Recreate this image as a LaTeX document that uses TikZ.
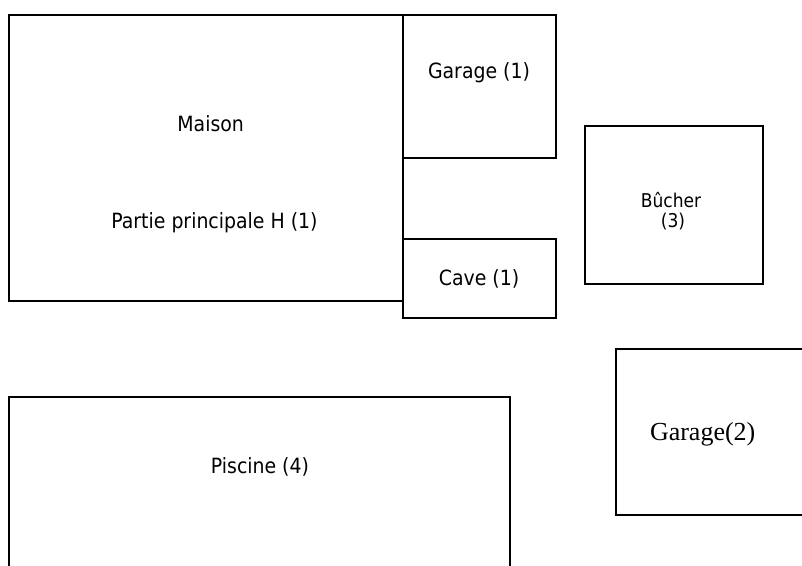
\documentclass[tikz,border=0pt]{standalone}
\usepackage{fontspec}
\setmainfont{DejaVu Sans Condensed}
\newfontfamily\serifont{Liberation Serif}
\begin{document}
\begin{tikzpicture}[x=1pt,y=-1pt,
  box/.style={draw=black,line width=1.8pt,inner sep=0pt,outer sep=0pt,anchor=north west},
  lbl/.style={inner sep=0pt,font=\fontsize{21}{25}\selectfont,align=center},
  smalllbl/.style={inner sep=0pt,font=\fontsize{19}{22}\selectfont,anchor=base}]
\useasboundingbox (0,0) rectangle (802,565);
\clip (0,0) rectangle (802,565);
\fill[white] (0,0) rectangle (802,565);
\node[box,minimum width=394.6pt,minimum height=286.6pt] (maison) at (8.7,14.7) {};
\node[box,minimum width=152.4pt,minimum height=143pt] (garage1) at (403.3,14.7) {};
\node[box,minimum width=152.4pt,minimum height=79pt] (cave) at (403.3,238.7) {};
\node[box,minimum width=178pt,minimum height=158.3pt] (bucher) at (585.3,125.7) {};
\node[box,minimum width=230pt,minimum height=166.3pt] (garage2) at (615.7,349) {};
\node[box,minimum width=501pt,minimum height=220pt] (piscine) at (8.7,396.8) {};
\node[lbl] (t-maison) at (210.7,124) {Maison};
\node[lbl] (t-partie) at (214.5,223) {Partie principale H (1)};
\node[lbl] (t-garage1) at (479,72.7) {Garage (1)};
\node[lbl] (t-cave) at (479,279) {Cave (1)};
\node[smalllbl] (t-bucher) at (671,207) {Bûcher};
\node[smalllbl] (t-bucher3) at (673,227.5) {(3)};
\node[inner sep=0pt,font=\serifont\fontsize{26}{30}\selectfont] (t-garage2) at (702.7,434.3) {Garage(2)};
\node[lbl] (t-piscine) at (260,467) {Piscine (4)};
\end{tikzpicture}
\end{document}
